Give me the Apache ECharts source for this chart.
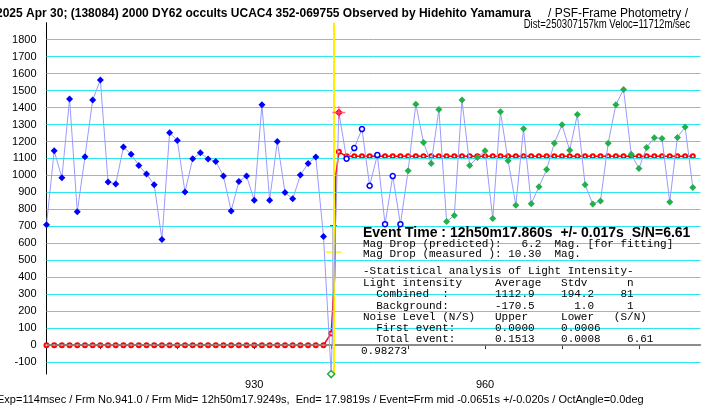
<!DOCTYPE html>
<html>
<head>
<meta charset="utf-8">
<script src="https://cdn.jsdelivr.net/npm/echarts@6/dist/echarts.min.js"></script>
<style>
html,body{margin:0;padding:0;background:#fff;}
#chart{width:707px;height:409px;}
</style>
</head>
<body>
<div id="chart"></div>
<script>
// frames run from firstFrame, one value per frame
var firstFrame = 903;
var intensity = [709,1145,986,1450,786,1110,1444,1562,962,950,
  1167,1125,1059,1008,945,623,1251,1206,903,1098,
  1133,1097,1082,996,791,965,996,854,1416,854,
  1200,900,862,1002,1071,1108,640,-170.5,1371,1098,
  1161,1273,939,1121,713,996,713,1027,1420,1194,
  1071,1389,729,764,1444,1059,1106,1145,746,1375,
  1086,825,1275,833,933,1035,1190,1298,1149,1359,
  945,831,850,1190,1416,1507,1125,1041,1165,1222,
  1218,843,1224,1285,929];
// frame ranges of the point groups
var preEventLast = 939;
var eventFrame = 940;
var markedFrame = 941;
var nearEventLast = 949;

// fitted model (frame, intensity)
var modelFrames = [940, 940.45, 940.6, 941];
var modelValues = [69, 400, 1000, 1139];
var modelBottom = 0;
var modelTop = 1112.9;
var lastFrame = 987;

var eventTime = 940.3;
var errBar = [0, 703];
var halfLevel = 548;

var yTicks = [-100,0,100,200,300,400,500,600,700,800,900,1000,1100,1200,1300,1400,1500,1600,1700,1800];
var xTicks = [910,920,930,940,950,960,970,980];
var xLabels = [930,960];

var textLines = [
  'Mag Drop (predicted):   6.2  Mag. [for fitting]',
  'Mag Drop (measured ): 10.30  Mag.',
  '-Statistical analysis of Light Intensity-',
  'Light intensity     Average   Stdv      n',
  '  Combined  :       1112.9    194.2    81',
  '  Background:       -170.5      1.0     1',
  'Noise Level (N/S)   Upper     Lower   (S/N)',
  '  First event:      0.0000    0.0006',
  '  Total event:      0.1513    0.0008    6.61',
  '0.98273'
];
var textY = [244, 254.5, 271.5, 283, 294.5, 306, 317.5, 328.5, 339.5, 351];

var chart = echarts.init(document.getElementById('chart'));

var lcData = intensity.map(function(v, i){
  var f = firstFrame + i;
  var item = {value: [f, v]};
  if (f <= preEventLast) {
    item.symbol = 'diamond'; item.symbolSize = 7;
    item.itemStyle = {color: '#0000ff', borderWidth: 0};
  } else if (f == eventFrame) {
    item.symbol = 'diamond'; item.symbolSize = 7;
    item.itemStyle = {color: '#fff', borderColor: '#22aa44', borderWidth: 1.5};
  } else if (f == markedFrame) {
    item.symbol = 'diamond'; item.symbolSize = 8;
    item.itemStyle = {color: '#ff0000', borderWidth: 0};
  } else if (f <= nearEventLast) {
    item.symbol = 'circle'; item.symbolSize = 5;
    item.itemStyle = {color: '#fff', borderColor: '#0000ff', borderWidth: 1.5};
  } else {
    item.symbol = 'diamond'; item.symbolSize = 7;
    item.itemStyle = {color: '#22b04a', borderWidth: 0};
  }
  return item;
});

var modelData = [];
for (var f = firstFrame; f < modelFrames[0]; f++) modelData.push({value: [f, modelBottom]});
modelFrames.forEach(function(f, i){
  modelData.push({value: [f, modelValues[i]], symbol: (f % 1 == 0) ? 'emptyCircle' : 'none'});
});
for (var f = modelFrames[modelFrames.length-1] + 1; f <= lastFrame; f++) modelData.push({value: [f, modelTop]});

var grids = yTicks.map(function(v){
  return {yAxis: v, lineStyle: {color: v == 0 ? '#888' : '#2ee6f0', width: v == 0 ? 1.5 : 1, type: 'solid'}};
});

var option = {
  animation: false,
  grid: {left: 46.5, top: 22.7, width: 654, height: 351.3},
  xAxis: {
    type: 'value', min: 903, max: 988,
    axisLine: {lineStyle: {color: '#777', width: 1.5}},
    axisTick: {customValues: xTicks, length: 4, inside: false, lineStyle: {color: '#333'}},
    axisLabel: {customValues: xLabels, color: '#000', fontSize: 11, fontFamily: 'Liberation Sans', margin: 5},
    splitLine: {show: false}
  },
  yAxis: {
    type: 'value', min: -170, max: 1900,
    axisLine: {show: true, lineStyle: {color: '#000', width: 1}},
    axisTick: {show: false},
    axisLabel: {customValues: yTicks, color: '#000', fontSize: 11, fontFamily: 'Liberation Sans', margin: 10,
      formatter: function(v){ return String(v); }},
    splitLine: {show: false}
  },
  series: [
    {
      name: 'grid', type: 'line', data: [], silent: true, z: 1,
      markLine: {silent: true, symbol: ['none','none'], label: {show: false},
        lineStyle: {type: 'solid'}, data: grids}
    },
    {
      name: 'event', type: 'line', data: [], silent: true, z: 2,
      markLine: {silent: true, symbol: ['none','none'], label: {show: false},
        data: [{xAxis: eventTime, lineStyle: {color: '#ffee00', width: 2, type: 'solid'}}]}
    },
    {
      name: 'err', type: 'line', z: 3, symbol: 'none',
      data: [[eventTime, errBar[0]], [eventTime, errBar[1]]],
      lineStyle: {color: '#101060', width: 1.5}
    },
    {
      name: 'errCap', type: 'scatter', z: 3, silent: true,
      data: [[eventTime, errBar[1]]],
      symbol: 'rect', symbolSize: [7, 1.5], itemStyle: {color: '#101060'}
    },
    {
      name: 'half', type: 'scatter', z: 3, silent: true,
      data: [[eventTime, halfLevel]],
      symbol: 'rect', symbolSize: [16, 1.5], itemStyle: {color: '#ffee00'}
    },
    {
      name: 'model', type: 'line', z: 4, data: modelData,
      symbol: 'emptyCircle', symbolSize: 4, showAllSymbol: true,
      itemStyle: {color: '#ff0000', borderColor: '#ff0000', borderWidth: 1},
      lineStyle: {color: '#ff0000', width: 1.5}
    },
    {
      name: 'light', type: 'line', z: 5, data: lcData, showAllSymbol: true,
      lineStyle: {color: '#9a9aff', width: 1}
    },
    {
      name: 'cross', type: 'scatter', z: 6,
      data: [[markedFrame, intensity[markedFrame - firstFrame]]],
      symbol: 'path://M0,4.5h10v1h-10z M4.5,0h1v10h-1z', symbolSize: 13,
      itemStyle: {color: '#ff5080'}
    }
  ],
  graphic: [
    {type: 'text', x: -4, y: 14, style: {text: '2025 Apr 30; (138084) 2000 DY62 occults UCAC4 352-069755 Observed by Hidehito Yamamura', font: 'bold 12px "Liberation Sans"', fill: '#000', verticalAlign: 'middle'}},
    {type: 'text', x: 688, y: 14, style: {text: ' / PSF-Frame Photometry /', font: '12px "Liberation Sans"', fill: '#000', align: 'right', verticalAlign: 'middle'}},
    {type: 'text', x: 690, y: 25, scaleX: 0.8, style: {text: 'Dist=250307157km Veloc=11712m/sec', font: '12px "Liberation Sans"', fill: '#000', align: 'right', verticalAlign: 'middle'}},
    {type: 'text', x: 363, y: 233, z: 20, style: {text: 'Event Time : 12h50m17.860s  +/- 0.017s  S/N=6.61', font: 'bold 14px "Liberation Sans"', fill: '#000', verticalAlign: 'middle'}},
    {type: 'text', x: -3, y: 400, style: {text: 'Exp=114msec / Frm No.941.0 / Frm Mid= 12h50m17.9249s,  End= 17.9819s / Event=Frm mid -0.0651s +/-0.020s / OctAngle=0.0deg', font: '11px "Liberation Sans"', fill: '#000', verticalAlign: 'middle'}}
  ].concat(textLines.map(function(t, i){
    return {type: 'text', x: i == textLines.length - 1 ? 361 : 363, y: textY[i], z: 20,
      style: {text: t, font: '11px "Liberation Mono"', fill: '#000', verticalAlign: 'middle'}};
  }))
};
chart.setOption(option);
</script>
</body>
</html>
